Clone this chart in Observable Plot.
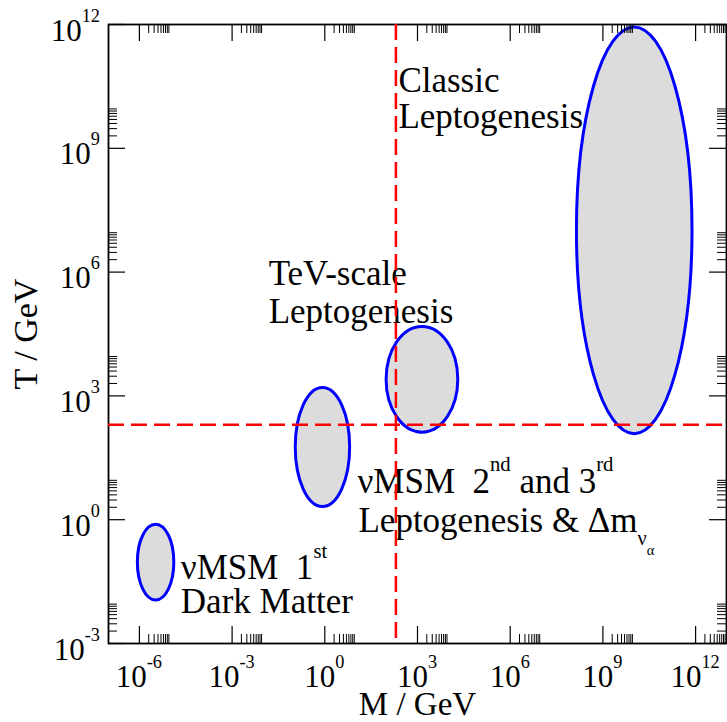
<!DOCTYPE html>
<html><head><meta charset="utf-8">
<script src="https://cdn.jsdelivr.net/npm/d3@7"></script>
<script src="https://cdn.jsdelivr.net/npm/@observablehq/plot@0.6"></script>
<style>html,body{margin:0;padding:0;background:#fff;overflow:hidden}</style>
</head><body><div id="chart"></div>
<script>
// ---------- data ----------
const xDomain = [1e-7, 1e13];           // M / GeV
const yDomain = [1e-3, 1e12];           // T / GeV
const xMajorExp = [-6, -3, 0, 3, 6, 9, 12];
const yMajorExp = [-3, 0, 3, 6, 9, 12];
const minorMult = [2, 3, 4, 5, 6, 7, 8, 9];

// regions (ellipses): centre and half-extent in decades (log10 GeV)
const regionNames      = ["νMSM 1st", "νMSM 2nd and 3rd", "TeV-scale Leptogenesis", "Classic Leptogenesis"];
const regionLogM       = [-5.46, -0.06, 3.16, 10.03];
const regionLogT       = [-1.04, 1.75, 3.39, 7.00];
const regionHalfWidth  = [0.59, 0.88, 1.16, 1.87];
const regionHalfHeight = [0.92, 1.44, 1.28, 4.93];

// sphaleron freeze-out lines
const sphaleronM = [200];
const sphaleronT = [200];

// annotation lines: position (log10 M, log10 T) and rich-text parts
const noteLogM  = [-4.643, -4.643, 1.074, 1.106, -1.801, -1.801, 2.398, 2.398];
const noteLogT  = [-1.448, -2.279, 0.643, -0.302, 5.676, 4.748, 10.36, 9.473];
const noteParts = [
  [["νMSM  1", "n"], ["st", "sup"]],
  [["Dark Matter", "n"]],
  [["νMSM  2", "n"], ["nd", "sup"], [" and 3", "n"], ["rd", "sup"]],
  [["Leptogenesis & Δm", "n"], ["ν", "sub"], ["α", "subsub"]],
  [["TeV-scale", "n"]],
  [["Leptogenesis", "n"]],
  [["Classic", "n"]],
  [["Leptogenesis", "n"]]
];

const xTitle = "M / GeV";
const yTitle = "T / GeV";

// ---------- style ----------
const SERIF = "'Liberation Serif', 'Times New Roman', Times, serif";
const GREY = "#dcdcdc", BLUE = "#0000ff", RED = "#ff0000";
const kindStyle = {
  n:      {dy: 0,     scale: 1},
  sup:    {dy: -0.61, scale: 0.59},
  sub:    {dy: 0.38,  scale: 0.58},
  subsub: {dy: 0.66,  scale: 0.41}
};

function richText(g, x, y, parts, size, anchor) {
  const t = g.append("text")
    .attr("x", x).attr("y", y)
    .attr("text-anchor", anchor)
    .attr("font-size", size)
    .attr("font-family", SERIF)
    .attr("fill", "black")
    .style("white-space", "pre");
  let cur = 0;
  for (const [str, kind] of parts) {
    const s = kindStyle[kind];
    const target = s.dy * size;
    t.append("tspan")
      .attr("dy", target - cur)
      .attr("font-size", s.scale * size)
      .text(str);
    cur = target;
  }
  return t;
}

// ---------- derived tick values ----------
const inDom = (v, d) => v >= d[0] * 0.999 && v <= d[1] * 1.001;
const xMajor = xMajorExp.map(e => 10 ** e);
const yMajor = yMajorExp.map(e => 10 ** e);
const xMinor = xMajorExp.flatMap(e => minorMult.map(m => m * 10 ** e)).filter(v => inDom(v, xDomain));
const yMinor = yMajorExp.flatMap(e => minorMult.map(m => m * 10 ** e)).filter(v => inDom(v, yDomain));

const W = 727, H = 722, mL = 108, mR = 1, mT = 24, mB = 79;
const fw = W - mL - mR, fh = H - mT - mB;
const MAJ = 17, MIN = 9;

// ---------- custom marks ----------
const ellipseMark = (index, {x, y}) => {
  const g = d3.create("svg:g");
  regionNames.forEach((name, i) => {
    const x0 = x(10 ** (regionLogM[i] - regionHalfWidth[i]));
    const x1 = x(10 ** (regionLogM[i] + regionHalfWidth[i]));
    const y0 = y(10 ** (regionLogT[i] - regionHalfHeight[i]));
    const y1 = y(10 ** (regionLogT[i] + regionHalfHeight[i]));
    g.append("ellipse")
      .attr("cx", (x0 + x1) / 2).attr("cy", (y0 + y1) / 2)
      .attr("rx", Math.abs(x1 - x0) / 2).attr("ry", Math.abs(y1 - y0) / 2)
      .attr("fill", GREY).attr("stroke", BLUE).attr("stroke-width", 3)
      .append("title").text(name);
  });
  return g.node();
};

const tickLabelMark = (index, {x, y}, values, dims) => {
  const g = d3.create("svg:g");
  const yb = dims.height - dims.marginBottom;
  for (const e of xMajorExp) {
    richText(g, x(10 ** e), yb + 44, [["10", "n"], [String(e), "sup"]], 31, "middle");
  }
  for (const e of yMajorExp) {
    richText(g, dims.marginLeft - 8, y(10 ** e) + 16.5, [["10", "n"], [String(e), "sup"]], 31, "end");
  }
  return g.node();
};

const noteMark = (index, {x, y}) => {
  const g = d3.create("svg:g");
  noteParts.forEach((parts, i) => {
    richText(g, x(10 ** noteLogM[i]), y(10 ** noteLogT[i]), parts, 35, "start");
  });
  return g.node();
};

const chart = Plot.plot({
  width: W, height: H,
  marginLeft: mL, marginRight: mR, marginTop: mT, marginBottom: mB,
  x: {type: "log", domain: xDomain, axis: null},
  y: {type: "log", domain: yDomain, axis: null},
  style: {background: "white", fontFamily: SERIF, overflow: "visible"},
  marks: [
    ellipseMark,
    noteMark,
    // ticks (inward, mirrored on all four sides)
    Plot.ruleX(xMajor, {insetTop: fh - MAJ, stroke: "black", strokeWidth: 1.2}),
    Plot.ruleX(xMajor, {insetBottom: fh - MAJ, stroke: "black", strokeWidth: 1.2}),
    Plot.ruleX(xMinor, {insetTop: fh - MIN, stroke: "black", strokeWidth: 1}),
    Plot.ruleX(xMinor, {insetBottom: fh - MIN, stroke: "black", strokeWidth: 1}),
    Plot.ruleY(yMajor, {insetRight: fw - MAJ, stroke: "black", strokeWidth: 1.2}),
    Plot.ruleY(yMajor, {insetLeft: fw - MAJ, stroke: "black", strokeWidth: 1.2}),
    Plot.ruleY(yMinor, {insetRight: fw - MIN, stroke: "black", strokeWidth: 1}),
    Plot.ruleY(yMinor, {insetLeft: fw - MIN, stroke: "black", strokeWidth: 1}),
    Plot.frame({stroke: "black", strokeWidth: 1.8}),
    tickLabelMark,
    Plot.text([xTitle], {text: d => d, frameAnchor: "bottom", dy: 71, textAnchor: "middle", lineAnchor: "bottom", fontSize: 33, fontFamily: SERIF, fill: "black"}),
    Plot.text([yTitle], {text: d => d, frameAnchor: "left", dx: -72, rotate: -90, textAnchor: "middle", lineAnchor: "bottom", fontSize: 34, fontFamily: SERIF, fill: "black"}),
    // sphaleron freeze-out
    Plot.ruleX(sphaleronM, {stroke: RED, strokeWidth: 2.5, strokeDasharray: "16,7"}),
    Plot.ruleY(sphaleronT, {stroke: RED, strokeWidth: 2.5, strokeDasharray: "16,7"})
  ]
});
document.getElementById("chart").appendChild(chart);
</script></body></html>
